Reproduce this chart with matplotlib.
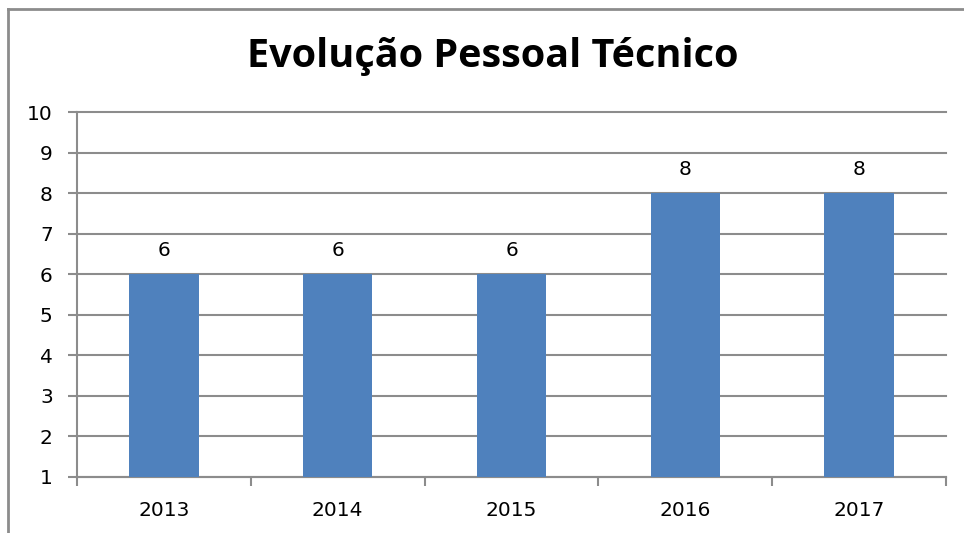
import matplotlib.pyplot as plt
from matplotlib.lines import Line2D
import numpy as np

years = ["2013", "2014", "2015", "2016", "2017"]
staff = [6, 6, 6, 8, 8]
y_ticks = [1, 2, 3, 4, 5, 6, 7, 8, 9, 10]

W, H = 964, 533
fig = plt.figure(figsize=(W / 100, H / 100), dpi=100)
fig.patch.set_facecolor("white")

# chart frame (only left and top edges visible in the crop)
grey = "#8c8c8c"
fig.add_artist(Line2D([8 / W, 8 / W], [0, 1 - 9 / H], color=grey, lw=2))
fig.add_artist(Line2D([8 / W, 1], [1 - 9 / H, 1 - 9 / H], color=grey, lw=2))

ax = fig.add_axes([77 / W, 1 - 477 / H, (946 - 77) / W, (477 - 112) / H])
x = np.arange(len(years))
ax.bar(x, staff, width=0.40, bottom=0, color="#4F81BD", zorder=3)

ax.set_xlim(-0.5, len(years) - 0.5)
ax.set_ylim(1, 10)
ax.set_yticks(y_ticks)
ax.set_yticklabels([str(v) for v in y_ticks], fontsize=14.5)
ax.yaxis.grid(True, color="#8c8c8c", lw=1.5, zorder=0)
for gl in ax.get_ygridlines():
    gl.set_clip_on(False)

ax.set_xticks(np.arange(-0.5, len(years)))
ax.set_xticklabels([])
ax.set_xticks(x, minor=True)
ax.set_xticklabels(years, minor=True, fontsize=14.5)
ax.tick_params(axis="x", which="major", length=6.5, width=1.5, color=grey, direction="out")
ax.tick_params(axis="x", which="minor", length=0, pad=17)
ax.tick_params(axis="y", length=6.5, width=1.5, color=grey, pad=11)

for s in ["top", "right"]:
    ax.spines[s].set_visible(False)
for s in ["left", "bottom"]:
    ax.spines[s].set_color(grey)
    ax.spines[s].set_linewidth(1.5)

for xi, v in zip(x, staff):
    ax.annotate(str(v), (xi, v), xytext=(0, 13), textcoords="offset points",
                ha="center", va="baseline", fontsize=14.5)

fig.text(493 / W, 1 - 67 / H, "Evolução Pessoal Técnico", ha="center", va="baseline",
         fontsize=28.5, fontweight="bold", family=["Open Sans", "DejaVu Sans"])

fig.savefig("out.png", dpi=100)
